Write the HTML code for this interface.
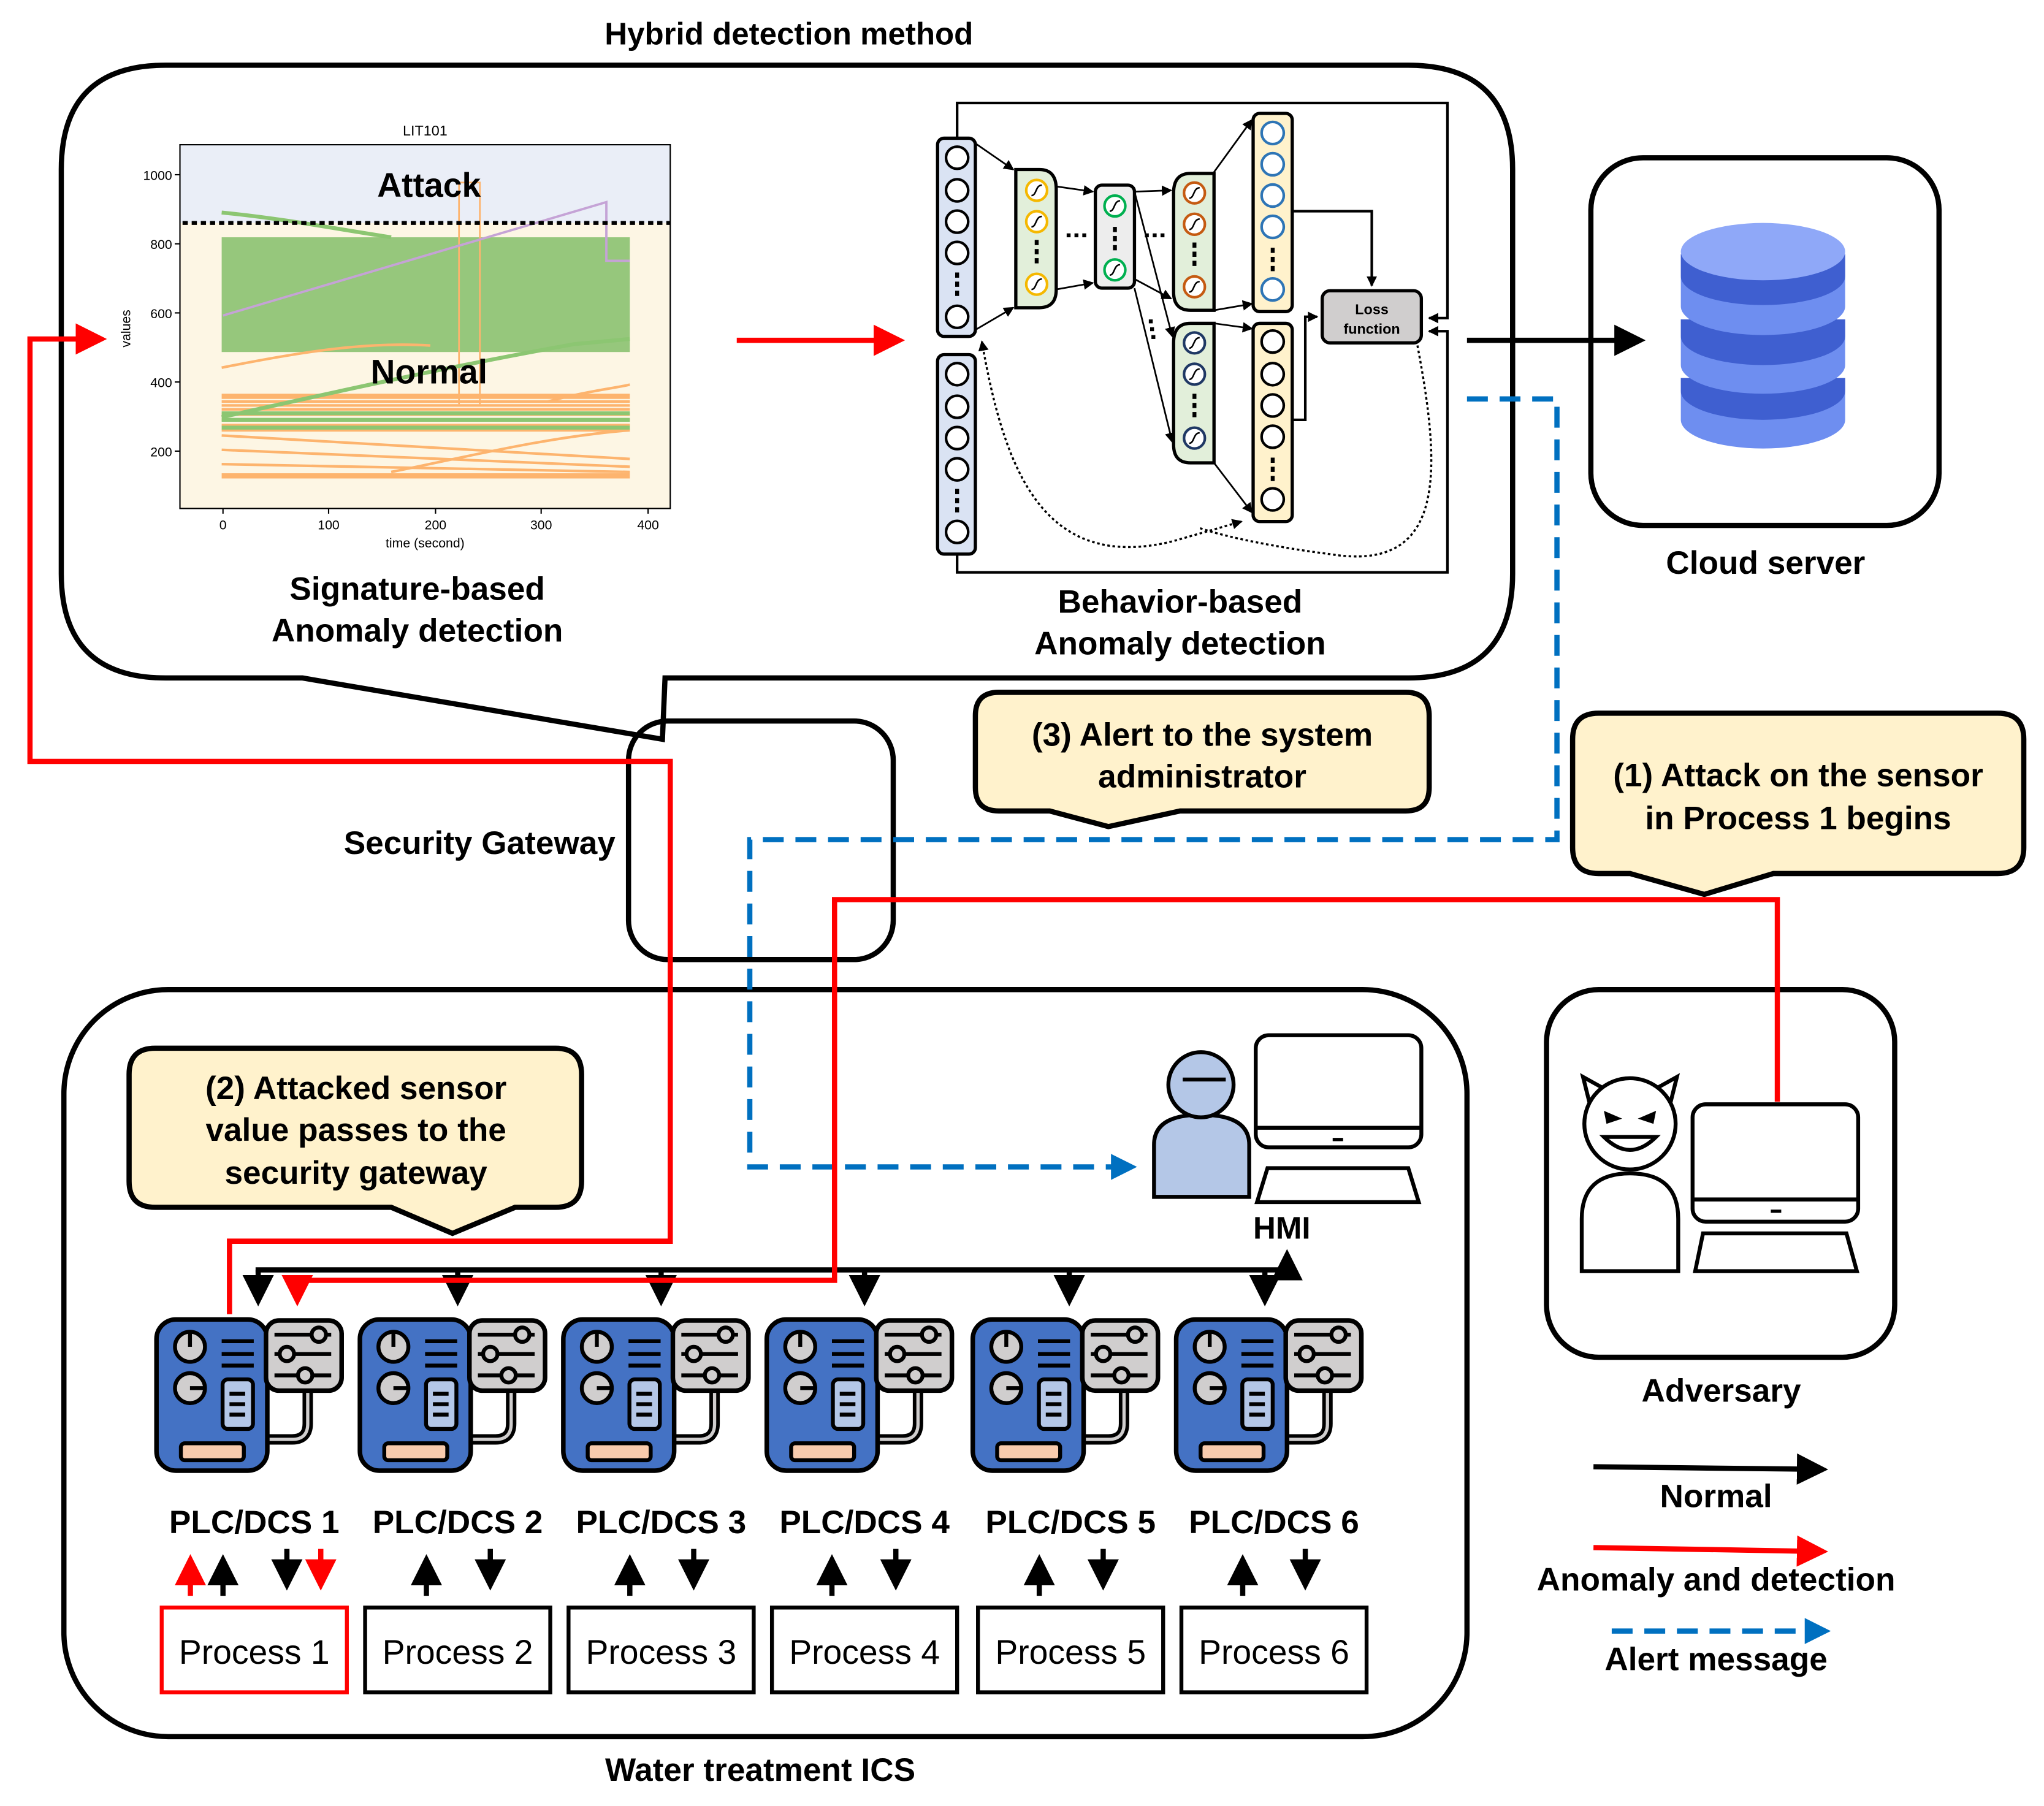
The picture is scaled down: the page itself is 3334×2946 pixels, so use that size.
<!DOCTYPE html>
<html><head><meta charset="utf-8"><style>html,body{margin:0;padding:0;background:#fff}svg{display:block}</style></head>
<body>
<svg width="3334" height="2946" viewBox="0 0 1567.5 1385.2" preserveAspectRatio="none" xmlns="http://www.w3.org/2000/svg" font-family="Liberation Sans, sans-serif">
<defs>
<marker id="ak" markerWidth="6" markerHeight="6" refX="5" refY="3" orient="auto" markerUnits="strokeWidth"><path d="M0,0 L6,3 L0,6 z" fill="#000"/></marker>
<marker id="ar" markerWidth="6" markerHeight="6" refX="5" refY="3" orient="auto" markerUnits="strokeWidth"><path d="M0,0 L6,3 L0,6 z" fill="#f00"/></marker>
<marker id="ab" markerWidth="5" markerHeight="5" refX="4" refY="2.5" orient="auto" markerUnits="strokeWidth"><path d="M0,0 L5,2.5 L0,5 z" fill="#0070c0"/></marker>
<marker id="as" markerWidth="8" markerHeight="8" refX="7" refY="4" orient="auto" markerUnits="userSpaceOnUse"><path d="M0,0 L8,4 L0,8 z" fill="#000"/></marker>
<marker id="as2" markerWidth="8" markerHeight="8" refX="1" refY="4" orient="auto" markerUnits="userSpaceOnUse"><path d="M8,0 L0,4 L8,8 z" fill="#000"/></marker>
<g id="plc" stroke="#000">
<path d="M116,54 V80 Q116,92 104,92 H86" fill="none" stroke-width="8"/>
<path d="M116,54 V80 Q116,92 104,92 H86" fill="none" stroke="#d0cece" stroke-width="2.5"/>
<rect x="0" y="0" width="85" height="116" rx="15" fill="#4472c4" stroke-width="3.5"/>
<circle cx="25.7" cy="21" r="11.5" fill="#d0cece" stroke-width="3"/>
<line x1="25.7" y1="10" x2="25.7" y2="21" stroke-width="3"/>
<circle cx="25.7" cy="52.7" r="11.5" fill="#d0cece" stroke-width="3"/>
<line x1="25.7" y1="52.7" x2="37" y2="52.7" stroke-width="3"/>
<line x1="50" y1="16.7" x2="74.6" y2="16.7" stroke-width="3"/>
<line x1="50" y1="26.5" x2="74.6" y2="26.5" stroke-width="3"/>
<line x1="50" y1="35.4" x2="74.6" y2="35.4" stroke-width="3"/>
<rect x="50.7" y="46" width="23.3" height="38" rx="4" fill="#b4c7e7" stroke-width="3"/>
<line x1="56" y1="57" x2="68" y2="57" stroke-width="3"/>
<line x1="56" y1="65" x2="68" y2="65" stroke-width="3"/>
<line x1="56" y1="73" x2="68" y2="73" stroke-width="3"/>
<rect x="18.7" y="95" width="48.3" height="13" rx="3" fill="#f8cbad" stroke-width="3"/>
<rect x="84" y="0.8" width="58" height="53.8" rx="10" fill="#d0cece" stroke-width="3.5"/>
<line x1="90.5" y1="11.7" x2="134" y2="11.7" stroke-width="3"/>
<line x1="90.5" y1="26.5" x2="134" y2="26.5" stroke-width="3"/>
<line x1="90.5" y1="42.9" x2="134" y2="42.9" stroke-width="3"/>
<circle cx="124.5" cy="11.7" r="5.5" fill="#d0cece" stroke-width="3"/>
<circle cx="100" cy="26.5" r="5.5" fill="#d0cece" stroke-width="3"/>
<circle cx="114" cy="42.9" r="5.5" fill="#d0cece" stroke-width="3"/>
</g>
</defs>

<!-- Title -->
<text x="605" y="34" font-size="24" font-weight="bold" text-anchor="middle">Hybrid detection method</text>

<!-- Top callout box -->
<path d="M127,50 H1080 Q1160,50 1160,130 V440 Q1160,520 1080,520 H510 L508,567 L232,520 H127 Q47,520 47,440 V130 Q47,50 127,50 Z" fill="none" stroke="#000" stroke-width="4"/>

<!-- Chart -->
<rect x="138" y="111" width="376" height="60" fill="#eaeef7"/>
<rect x="138" y="171" width="376" height="219" fill="#fdf6e4"/>
<rect x="170" y="182" width="313" height="88" fill="#96c77c"/>
<g stroke="#fdb46e" stroke-width="2" fill="none">
<path d="M170,305 H483 M170,308 H483 M170,311 H483 M170,314 H483 M170,318 H483 M170,322 H483 M170,326 H483 M170,330 H483 M170,303 H483"/>
<path d="M170,282 C230,270 280,262 330,265"/>
<path d="M170,334 L483,352"/>
<path d="M170,345 L483,358"/>
<path d="M170,356 L483,362"/>
<path d="M170,364 H483 M170,366 H483"/>
<path d="M300,362 C360,350 420,335 483,330"/>
<path d="M420,308 C450,300 470,298 483,295"/>
<path d="M352,171 V310 M368,171 V310 M352,140 H368 V182 M352,140 V182" stroke-width="1.3"/>
</g>
<g stroke="#8cc672" stroke-width="3" fill="none">
<path d="M170,320 C260,300 340,282 440,264 L483,260"/>
<path d="M170,317 H483 M170,322 H483 M170,328 H483"/>
<path d="M170,163 C220,168 260,176 300,182"/>
</g>
<path d="M171,242 L465,155 V200 H483" fill="none" stroke="#c5a3d6" stroke-width="1.8"/>
<line x1="140" y1="171" x2="514" y2="171" stroke="#000" stroke-width="3" stroke-dasharray="4,3"/>
<rect x="138" y="111" width="376" height="279" fill="none" stroke="#000" stroke-width="1"/>
<text x="329" y="151" font-size="26" font-weight="bold" text-anchor="middle">Attack</text>
<text x="329" y="294" font-size="26" font-weight="bold" text-anchor="middle">Normal</text>
<text x="326" y="104" font-size="11" text-anchor="middle">LIT101</text>
<g font-size="10" text-anchor="end">
<text x="132" y="138">1000</text><text x="132" y="191">800</text><text x="132" y="244">600</text><text x="132" y="297">400</text><text x="132" y="350">200</text>
</g>
<g stroke="#000" stroke-width="1"><line x1="134" y1="134" x2="138" y2="134"/><line x1="134" y1="187" x2="138" y2="187"/><line x1="134" y1="240" x2="138" y2="240"/><line x1="134" y1="293" x2="138" y2="293"/><line x1="134" y1="346" x2="138" y2="346"/>
<line x1="171" y1="390" x2="171" y2="394"/><line x1="252" y1="390" x2="252" y2="394"/><line x1="334" y1="390" x2="334" y2="394"/><line x1="415" y1="390" x2="415" y2="394"/><line x1="497" y1="390" x2="497" y2="394"/></g>
<g font-size="10" text-anchor="middle">
<text x="171" y="406">0</text><text x="252" y="406">100</text><text x="334" y="406">200</text><text x="415" y="406">300</text><text x="497" y="406">400</text>
<text x="326" y="420">time (second)</text>
<text transform="translate(100,252) rotate(-90)">values</text>
</g>
<text x="320" y="460" font-size="25" font-weight="bold" text-anchor="middle">Signature-based</text>
<text x="320" y="492" font-size="25" font-weight="bold" text-anchor="middle">Anomaly detection</text>

<!-- red arrow chart->NN -->
<line x1="565" y1="261" x2="690" y2="261" stroke="#f00" stroke-width="4" marker-end="url(#ar)"/>

<!-- Neural network -->
<g stroke="#000" stroke-width="2" fill="none">
<path d="M734,106 V79 H1110 V244 H1096" marker-end="url(#as)"/>
<path d="M734,425 V439 H1110 V254 H1096" marker-end="url(#as)"/>
<path d="M991,162 H1052 V219" marker-end="url(#as)"/>
<path d="M991,322 H1001 V243 H1010" marker-end="url(#as)"/>
</g>
<g stroke="#000" stroke-width="1.3" fill="none">
<line x1="748" y1="110" x2="777" y2="130" marker-end="url(#as)"/>
<line x1="748" y1="253" x2="777" y2="236" marker-end="url(#as)"/>
<line x1="810" y1="143" x2="838" y2="147" marker-end="url(#as)"/>
<line x1="810" y1="222" x2="838" y2="217" marker-end="url(#as)"/>
<line x1="870" y1="147" x2="898" y2="146" marker-end="url(#as)"/>
<line x1="870" y1="214" x2="898" y2="229" marker-end="url(#as)"/>
<line x1="870" y1="147" x2="899" y2="258" marker-end="url(#as)"/>
<line x1="870" y1="221" x2="899" y2="339" marker-end="url(#as)"/>
<line x1="931" y1="132" x2="960" y2="92" marker-end="url(#as)"/>
<line x1="931" y1="238" x2="960" y2="233" marker-end="url(#as)"/>
<line x1="931" y1="248" x2="960" y2="252" marker-end="url(#as)"/>
<line x1="931" y1="355" x2="960" y2="393" marker-end="url(#as)"/>
</g>
<g stroke="#000" stroke-width="1.6" fill="none" stroke-dasharray="2,2">
<path d="M753,262 C770,360 800,440 900,415 L952,400" marker-start="url(#as2)" marker-end="url(#as)"/>
<path d="M1087,265 C1105,360 1110,440 1020,425 C980,420 940,412 920,405"/>
</g>
<g fill="#000">
<rect x="818" y="179" width="3" height="3"/><rect x="824" y="179" width="3" height="3"/><rect x="830" y="179" width="3" height="3"/>
<rect x="878" y="179" width="3" height="3"/><rect x="884" y="179" width="3" height="3"/><rect x="890" y="179" width="3" height="3"/>
<rect x="881" y="245" width="3" height="3"/><rect x="882" y="251" width="3" height="3"/><rect x="883" y="257" width="3" height="3"/>
</g>
<g stroke="#000" stroke-width="2.5">
<rect x="719" y="106" width="29" height="152" rx="5" fill="#dae3f3"/>
<rect x="719" y="272" width="29" height="153" rx="5" fill="#dae3f3"/>
</g>
<g stroke="#000" stroke-width="2" fill="#fff">
<circle cx="734" cy="121" r="8.5"/><circle cx="734" cy="146" r="8.5"/><circle cx="734" cy="170" r="8.5"/><circle cx="734" cy="194" r="8.5"/><circle cx="734" cy="243" r="8.5"/>
<circle cx="734" cy="287" r="8.5"/><circle cx="734" cy="312" r="8.5"/><circle cx="734" cy="336" r="8.5"/><circle cx="734" cy="360" r="8.5"/><circle cx="734" cy="408" r="8.5"/>
</g>
<g fill="#000">
<rect x="732.5" y="209" width="3" height="4"/><rect x="732.5" y="216" width="3" height="4"/><rect x="732.5" y="223" width="3" height="4"/>
<rect x="732.5" y="375" width="3" height="4"/><rect x="732.5" y="382" width="3" height="4"/><rect x="732.5" y="389" width="3" height="4"/>
</g>
<path d="M779,130 H797 Q810,130 810,145 V222 Q810,236 797,236 H779 Z" fill="#e2efda" stroke="#000" stroke-width="2.5"/>
<rect x="840" y="142" width="30" height="79" rx="5" fill="#ededed" stroke="#000" stroke-width="2.5"/>
<path d="M931,133 H913 Q900,133 900,148 V224 Q900,238 913,238 H931 Z" fill="#e2efda" stroke="#000" stroke-width="2.5"/>
<path d="M931,248 H913 Q900,248 900,263 V341 Q900,355 913,355 H931 Z" fill="#e2efda" stroke="#000" stroke-width="2.5"/>
<rect x="961" y="87" width="30" height="152" rx="5" fill="#fff2cc" stroke="#000" stroke-width="2.5"/>
<rect x="961" y="248" width="30" height="152" rx="5" fill="#fff2cc" stroke="#000" stroke-width="2.5"/>
<g fill="#fff" stroke-width="2">
<g stroke="#f5b800"><circle cx="795" cy="146" r="8"/><circle cx="795" cy="170" r="8"/><circle cx="795" cy="218" r="8"/></g>
<g stroke="#00b050"><circle cx="855" cy="158" r="8"/><circle cx="855" cy="207" r="8"/></g>
<g stroke="#c55a11"><circle cx="916" cy="148" r="8"/><circle cx="916" cy="172" r="8"/><circle cx="916" cy="220" r="8"/></g>
<g stroke="#1f3864"><circle cx="916" cy="263" r="8"/><circle cx="916" cy="287" r="8"/><circle cx="916" cy="336" r="8"/></g>
<g stroke="#2e75b6"><circle cx="976" cy="102" r="8.5"/><circle cx="976" cy="126" r="8.5"/><circle cx="976" cy="150" r="8.5"/><circle cx="976" cy="174" r="8.5"/><circle cx="976" cy="222" r="8.5"/></g>
<g stroke="#000"><circle cx="976" cy="262" r="8.5"/><circle cx="976" cy="287" r="8.5"/><circle cx="976" cy="311" r="8.5"/><circle cx="976" cy="335" r="8.5"/><circle cx="976" cy="383" r="8.5"/></g>
</g>
<g stroke="#000" stroke-width="1.2" fill="none">
<path d="M791,150 C795,150 794,142 799,142 M791,174 C795,174 794,166 799,166 M791,222 C795,222 794,214 799,214"/>
<path d="M851,162 C855,162 854,154 859,154 M851,211 C855,211 854,203 859,203"/>
<path d="M912,152 C916,152 915,144 920,144 M912,176 C916,176 915,168 920,168 M912,224 C916,224 915,216 920,216"/>
<path d="M912,267 C916,267 915,259 920,259 M912,291 C916,291 915,283 920,283 M912,340 C916,340 915,332 920,332"/>
</g>
<g fill="#000">
<rect x="793.5" y="184" width="3" height="4"/><rect x="793.5" y="191" width="3" height="4"/><rect x="793.5" y="198" width="3" height="4"/>
<rect x="853.5" y="174" width="3" height="4"/><rect x="853.5" y="181" width="3" height="4"/><rect x="853.5" y="188" width="3" height="4"/>
<rect x="914.5" y="186" width="3" height="4"/><rect x="914.5" y="193" width="3" height="4"/><rect x="914.5" y="200" width="3" height="4"/>
<rect x="914.5" y="302" width="3" height="4"/><rect x="914.5" y="309" width="3" height="4"/><rect x="914.5" y="316" width="3" height="4"/>
<rect x="974.5" y="190" width="3" height="4"/><rect x="974.5" y="197" width="3" height="4"/><rect x="974.5" y="204" width="3" height="4"/>
<rect x="974.5" y="351" width="3" height="4"/><rect x="974.5" y="358" width="3" height="4"/><rect x="974.5" y="365" width="3" height="4"/>
</g>
<rect x="1014" y="223" width="76" height="40" rx="6" fill="#d0cece" stroke="#000" stroke-width="2.5"/>
<text x="1052" y="241" font-size="11" font-weight="bold" text-anchor="middle">Loss</text>
<text x="1052" y="256" font-size="11" font-weight="bold" text-anchor="middle">function</text>
<text x="905" y="470" font-size="25" font-weight="bold" text-anchor="middle">Behavior-based</text>
<text x="905" y="502" font-size="25" font-weight="bold" text-anchor="middle">Anomaly detection</text>

<!-- Cloud server -->
<rect x="1220" y="121" width="267" height="282" rx="40" fill="#fff" stroke="#000" stroke-width="4"/>
<g>
<path d="M1289,290 V322 A63,22 0 0 0 1415,322 V290 Z" fill="#6e8ef0"/>
<path d="M1289,300 A63,22 0 0 0 1415,300 V290 H1289 Z" fill="#3f5fd0"/>
<path d="M1289,245 V280 A63,22 0 0 0 1415,280 V245 Z" fill="#6e8ef0"/>
<path d="M1289,258 A63,22 0 0 0 1415,258 V245 H1289 Z" fill="#3f5fd0"/>
<path d="M1289,195 V235 A63,22 0 0 0 1415,235 V195 Z" fill="#6e8ef0"/>
<path d="M1289,212 A63,22 0 0 0 1415,212 V195 H1289 Z" fill="#3f5fd0"/>
<ellipse cx="1352" cy="193" rx="63" ry="22" fill="#8fa8f8"/>
</g>
<text x="1354" y="440" font-size="25" font-weight="bold" text-anchor="middle">Cloud server</text>
<!-- NN -> cloud -->
<line x1="1125" y1="261" x2="1258" y2="261" stroke="#000" stroke-width="4" marker-end="url(#ak)"/>

<!-- Security gateway -->
<rect x="482" y="553" width="203" height="183" rx="30" fill="none" stroke="#000" stroke-width="4"/>
<text x="472" y="655" font-size="25" font-weight="bold" text-anchor="end">Security Gateway</text>

<!-- Bottom box -->
<rect x="49" y="759" width="1076" height="573" rx="80" fill="none" stroke="#000" stroke-width="4"/>
<text x="583" y="1366" font-size="25" font-weight="bold" text-anchor="middle">Water treatment ICS</text>

<!-- Callouts -->
<path d="M766,531 H1078 Q1096,531 1096,549 V604 Q1096,622 1078,622 H905 L850,634 L805,622 H766 Q748,622 748,604 V549 Q748,531 766,531 Z" fill="#fff2cc" stroke="#000" stroke-width="4"/>
<text x="922" y="572" font-size="25" font-weight="bold" text-anchor="middle">(3) Alert to the system</text>
<text x="922" y="604" font-size="25" font-weight="bold" text-anchor="middle">administrator</text>
<path d="M1226,547 H1532 Q1552,547 1552,567 V650 Q1552,670 1532,670 H1360 L1307,686 L1250,670 H1226 Q1206,670 1206,650 V567 Q1206,547 1226,547 Z" fill="#fff2cc" stroke="#000" stroke-width="4"/>
<text x="1379" y="603" font-size="25" font-weight="bold" text-anchor="middle">(1) Attack on the sensor</text>
<text x="1379" y="636" font-size="25" font-weight="bold" text-anchor="middle">in Process 1 begins</text>
<path d="M119,804 H426 Q446,804 446,824 V906 Q446,926 426,926 H395 L347,946 L300,926 H119 Q99,926 99,906 V824 Q99,804 119,804 Z" fill="#fff2cc" stroke="#000" stroke-width="4"/>
<text x="273" y="843" font-size="25" font-weight="bold" text-anchor="middle">(2) Attacked sensor</text>
<text x="273" y="875" font-size="25" font-weight="bold" text-anchor="middle">value passes to the</text>
<text x="273" y="908" font-size="25" font-weight="bold" text-anchor="middle">security gateway</text>

<!-- blue dashed -->
<path d="M1125,306 H1194 V644 H575 V895 H868" fill="none" stroke="#0070c0" stroke-width="4" stroke-dasharray="16,9" marker-end="url(#ab)"/>

<!-- HMI -->
<path d="M885,918 V878 Q885,855 921,855 Q958,855 958,878 V918 Z" fill="#b4c7e7" stroke="#000" stroke-width="3"/>
<circle cx="921" cy="832" r="25" fill="#b4c7e7" stroke="#000" stroke-width="3"/>
<line x1="907" y1="828" x2="940" y2="828" stroke="#000" stroke-width="3"/>
<rect x="963" y="794" width="127" height="86" rx="10" fill="#fff" stroke="#000" stroke-width="3"/>
<line x1="963" y1="865" x2="1090" y2="865" stroke="#000" stroke-width="3"/>
<line x1="1022" y1="874" x2="1030" y2="874" stroke="#000" stroke-width="2.5"/>
<path d="M972,896 H1080 L1088,922 H964 Z" fill="#fff" stroke="#000" stroke-width="3"/>
<text x="983" y="950" font-size="24" font-weight="bold" text-anchor="middle">HMI</text>

<!-- Adversary -->
<rect x="1186" y="759" width="267" height="282" rx="40" fill="none" stroke="#000" stroke-width="4"/>
<path d="M1213,975 V935 Q1213,900 1250,900 Q1287,900 1287,935 V975 Z" fill="#fff" stroke="#000" stroke-width="3"/>
<path d="M1220,850 L1214,826 L1232,836 M1280,850 L1286,826 L1268,836" fill="#fff" stroke="#000" stroke-width="3"/>
<circle cx="1250" cy="862" r="35" fill="#fff" stroke="#000" stroke-width="3"/>
<path d="M1230,852 L1244,858 L1232,862 Z M1270,852 L1256,858 L1268,862 Z" fill="#000"/>
<path d="M1230,872 Q1250,892 1270,872 Z" fill="#fff" stroke="#000" stroke-width="3"/>
<rect x="1298" y="847" width="127" height="90" rx="10" fill="#fff" stroke="#000" stroke-width="3"/>
<line x1="1298" y1="920" x2="1425" y2="920" stroke="#000" stroke-width="3"/>
<line x1="1358" y1="929" x2="1366" y2="929" stroke="#000" stroke-width="2.5"/>
<path d="M1306,946 H1416 L1424,975 H1300 Z" fill="#fff" stroke="#000" stroke-width="3"/>
<text x="1320" y="1075" font-size="25" font-weight="bold" text-anchor="middle">Adversary</text>

<!-- red path from signature to process 1 -->
<path d="M176,1008 V952 H514 V584 H23 V260 H78" fill="none" stroke="#f00" stroke-width="4" marker-end="url(#ar)"/>

<!-- black bus -->
<g stroke="#000" stroke-width="4" fill="none">
<line x1="196" y1="974" x2="989" y2="974"/>
<line x1="198" y1="974" x2="198" y2="998" marker-end="url(#ak)"/>
<line x1="351" y1="974" x2="351" y2="998" marker-end="url(#ak)"/>
<line x1="507" y1="974" x2="507" y2="998" marker-end="url(#ak)"/>
<line x1="663" y1="974" x2="663" y2="998" marker-end="url(#ak)"/>
<line x1="820" y1="974" x2="820" y2="998" marker-end="url(#ak)"/>
<line x1="970" y1="974" x2="970" y2="998" marker-end="url(#ak)"/>
<line x1="987" y1="974" x2="987" y2="962" marker-end="url(#ak)"/>
</g>
<path d="M1363,845 V690 H640 V982 H228 V998" fill="none" stroke="#f00" stroke-width="4" marker-end="url(#ar)"/>

<!-- PLCs -->
<use href="#plc" x="120" y="1012"/>
<use href="#plc" x="276" y="1012"/>
<use href="#plc" x="432" y="1012"/>
<use href="#plc" x="588" y="1012"/>
<use href="#plc" x="746" y="1012"/>
<use href="#plc" x="902" y="1012"/>
<g font-size="25" font-weight="bold" text-anchor="middle">
<text x="195" y="1176">PLC/DCS 1</text><text x="351" y="1176">PLC/DCS 2</text><text x="507" y="1176">PLC/DCS 3</text><text x="663" y="1176">PLC/DCS 4</text><text x="821" y="1176">PLC/DCS 5</text><text x="977" y="1176">PLC/DCS 6</text>
</g>
<g stroke-width="4" fill="none">
<line x1="146" y1="1224" x2="146" y2="1196" stroke="#f00" marker-end="url(#ar)"/>
<line x1="246" y1="1188" x2="246" y2="1216" stroke="#f00" marker-end="url(#ar)"/>
<g stroke="#000">
<line x1="171" y1="1224" x2="171" y2="1196" marker-end="url(#ak)"/>
<line x1="220" y1="1188" x2="220" y2="1216" marker-end="url(#ak)"/>
<line x1="327" y1="1224" x2="327" y2="1196" marker-end="url(#ak)"/>
<line x1="376" y1="1188" x2="376" y2="1216" marker-end="url(#ak)"/>
<line x1="483" y1="1224" x2="483" y2="1196" marker-end="url(#ak)"/>
<line x1="532" y1="1188" x2="532" y2="1216" marker-end="url(#ak)"/>
<line x1="638" y1="1224" x2="638" y2="1196" marker-end="url(#ak)"/>
<line x1="687" y1="1188" x2="687" y2="1216" marker-end="url(#ak)"/>
<line x1="797" y1="1224" x2="797" y2="1196" marker-end="url(#ak)"/>
<line x1="846" y1="1188" x2="846" y2="1216" marker-end="url(#ak)"/>
<line x1="953" y1="1224" x2="953" y2="1196" marker-end="url(#ak)"/>
<line x1="1001" y1="1188" x2="1001" y2="1216" marker-end="url(#ak)"/>
</g>
</g>
<g fill="none" stroke-width="3">
<rect x="124" y="1233" width="142" height="65" stroke="#f00"/>
<rect x="280" y="1233" width="142" height="65" stroke="#000"/>
<rect x="436" y="1233" width="142" height="65" stroke="#000"/>
<rect x="592" y="1233" width="142" height="65" stroke="#000"/>
<rect x="750" y="1233" width="142" height="65" stroke="#000"/>
<rect x="906" y="1233" width="142" height="65" stroke="#000"/>
</g>
<g font-size="26" text-anchor="middle">
<text x="195" y="1276">Process 1</text><text x="351" y="1276">Process 2</text><text x="507" y="1276">Process 3</text><text x="663" y="1276">Process 4</text><text x="821" y="1276">Process 5</text><text x="977" y="1276">Process 6</text>
</g>

<!-- Legend -->
<line x1="1222" y1="1125" x2="1398" y2="1127" stroke="#000" stroke-width="4" marker-end="url(#ak)"/>
<text x="1316" y="1156" font-size="25" font-weight="bold" text-anchor="middle">Normal</text>
<line x1="1222" y1="1187" x2="1398" y2="1190" stroke="#f00" stroke-width="4" marker-end="url(#ar)"/>
<text x="1316" y="1220" font-size="25" font-weight="bold" text-anchor="middle">Anomaly and detection</text>
<line x1="1236" y1="1251" x2="1400" y2="1251" stroke="#0070c0" stroke-width="4" stroke-dasharray="16,9" marker-end="url(#ab)"/>
<text x="1316" y="1281" font-size="25" font-weight="bold" text-anchor="middle">Alert message</text>
</svg>
</body></html>
